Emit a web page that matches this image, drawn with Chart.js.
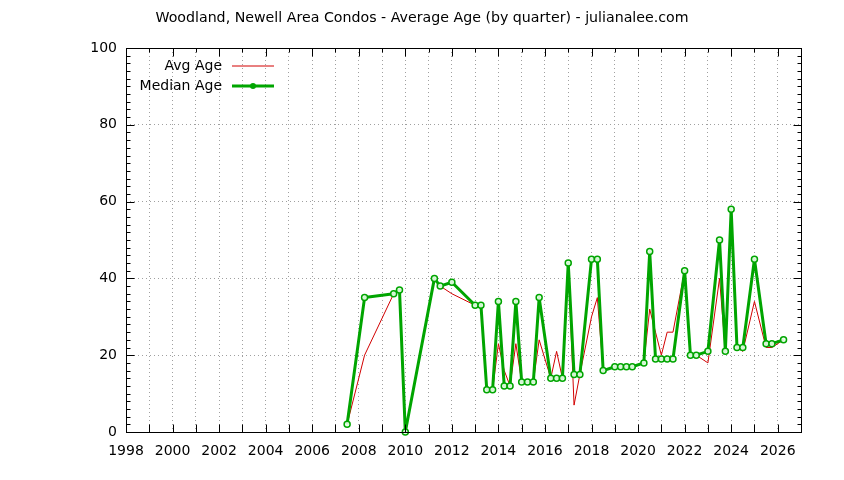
<!DOCTYPE html>
<html>
<head>
<meta charset="utf-8">
<script src="https://cdn.jsdelivr.net/npm/chart.js@4"></script>
<style>
  body { margin: 0; background: #fff; }
  canvas { display: block; }
</style>
</head>
<body>
<canvas id="myChart" width="844" height="480"></canvas>
<script>
// quarter dates as decimal years
const quarters = [
  2007.5, 2008.25, 2009.5, 2009.75, 2010.0, 2011.25, 2011.5, 2012.0,
  2013.0, 2013.25, 2013.5, 2013.75, 2014.0, 2014.25, 2014.5, 2014.75,
  2015.0, 2015.25, 2015.5, 2015.75, 2016.25, 2016.5, 2016.75, 2017.0,
  2017.25, 2017.5, 2018.0, 2018.25, 2018.5, 2019.0, 2019.25, 2019.5,
  2019.75, 2020.25, 2020.5, 2020.75, 2021.0, 2021.25, 2021.5, 2022.0,
  2022.25, 2022.5, 2023.0, 2023.5, 2023.75, 2024.0, 2024.25, 2024.5,
  2025.0, 2025.5, 2025.75, 2026.25
];
const avgAge = [
  2, 20, 36, 37, 0, 40, 38, 36,
  33, 33, 11, 11, 23, 16, 12, 23,
  13, 13, 13, 24, 14, 21, 14, 44,
  7, 15, 30, 35, 16, 17, 17, 17,
  17, 18, 32, 26, 20, 26, 26, 42,
  20, 20, 18, 40, 21, 58, 22, 21,
  34, 22, 22, 24
];
const medianAge = [
  2, 35, 36, 37, 0, 40, 38, 39,
  33, 33, 11, 11, 34, 12, 12, 34,
  13, 13, 13, 35, 14, 14, 14, 44,
  15, 15, 45, 45, 16, 17, 17, 17,
  17, 18, 47, 19, 19, 19, 19, 42,
  20, 20, 21, 50, 21, 58, 22, 22,
  45, 23, 23, 24
];
const yearMin = 1998, yearMax = 2027;
const ageMin = 0, ageMax = 100;
const chartTitle = 'Woodland, Newell Area Condos - Average Age (by quarter) - julianalee.com';

const FONT = 'DejaVu Sans';
const RED = 'rgb(210, 0, 0)';
const GREEN = 'rgb(0, 165, 0)';

// gnuplot style frame: title, box, inward ticks on all four sides, legend top-left
const framePlugin = {
  id: 'frame',
  afterDraw(chart) {
    const { ctx, chartArea: a, scales } = chart;
    const x = scales.x, y = scales.y;
    const L = Math.round(a.left) + 0.5, R = Math.round(a.right) + 0.5;
    const T = Math.round(a.top) + 0.5, B = Math.round(a.bottom) + 0.5;
    ctx.save();

    // title, centred on the whole canvas
    ctx.fillStyle = '#000';
    ctx.font = '14.2px "' + FONT + '"';
    ctx.textAlign = 'center';
    ctx.textBaseline = 'middle';
    ctx.fillText(chartTitle, chart.width / 2, 18);

    ctx.strokeStyle = '#000';
    ctx.lineWidth = 1;
    ctx.beginPath();
    for (let yr = yearMin; yr <= yearMax; yr++) {
      const px = Math.round(x.getPixelForValue(yr)) + 0.5;
      ctx.moveTo(px, B); ctx.lineTo(px, B - 8);
      ctx.moveTo(px, T); ctx.lineTo(px, T + (yr % 2 === 0 ? 8 : 4));
    }
    for (let v = ageMin; v <= ageMax; v += 2) {
      const py = Math.round(y.getPixelForValue(v)) + 0.5;
      const len = v % 20 === 0 ? 8 : 4;
      ctx.moveTo(L, py); ctx.lineTo(L + len, py);
      ctx.moveTo(R, py); ctx.lineTo(R - len, py);
    }
    ctx.stroke();
    ctx.strokeRect(L, T, R - L, B - T);

    // legend
    const ds = chart.data.datasets;
    ctx.font = '14px "' + FONT + '"';
    ctx.textAlign = 'right';
    const textX = a.left + 96, x1 = a.left + 106, x2 = a.left + 148;
    ds.forEach((d, i) => {
      const yy = a.top + 18 + i * 20;
      ctx.fillStyle = '#000';
      ctx.fillText(d.label, textX, yy);
      ctx.strokeStyle = d.borderColor;
      ctx.lineWidth = d.borderWidth;
      ctx.beginPath();
      ctx.moveTo(x1, yy); ctx.lineTo(x2, yy);
      ctx.stroke();
      if (d.pointRadius > 0) {
        ctx.fillStyle = d.borderColor;
        ctx.beginPath();
        ctx.arc((x1 + x2) / 2, yy, 3, 0, Math.PI * 2);
        ctx.fill();
      }
    });
    ctx.restore();
  }
};

const ctx = document.getElementById('myChart').getContext('2d');
const chart = new Chart(ctx, {
  type: 'line',
  data: {
    datasets: [{
      label: 'Avg Age',
      data: quarters.map((q, i) => ({ x: q, y: avgAge[i] })),
      borderColor: RED,
      borderWidth: 1,
      borderJoinStyle: 'round',
      pointRadius: 0,
      tension: 0,
      order: 2,
      clip: false
    }, {
      label: 'Median Age',
      data: quarters.map((q, i) => ({ x: q, y: medianAge[i] })),
      borderColor: GREEN,
      borderWidth: 3,
      borderJoinStyle: 'round',
      pointRadius: 3,
      pointBorderWidth: 1.5,
      pointBackgroundColor: 'rgba(235, 255, 235, 0.9)',
      pointBorderColor: GREEN,
      tension: 0,
      order: 1,
      clip: false
    }]
  },
  options: {
    responsive: false,
    devicePixelRatio: 1,
    animation: false,
    layout: { padding: { left: 0, right: 43, top: 48, bottom: 0 } },
    scales: {
      x: {
        type: 'linear',
        min: yearMin,
        max: yearMax,
        afterFit: s => { s.height = 48; },
        ticks: {
          stepSize: 1,
          autoSkip: false,
          maxRotation: 0,
          padding: 11,
          color: '#000',
          font: { family: FONT, size: 14 },
          callback: v => (v % 2 === 0 ? String(v) : '')
        },
        grid: { color: '#a0a0a0', lineWidth: 1, drawTicks: false },
        border: { display: false, dash: [1, 3] }
      },
      y: {
        min: ageMin,
        max: ageMax,
        afterFit: s => { s.width = 126; },
        ticks: {
          stepSize: 20,
          padding: 9,
          color: '#000',
          font: { family: FONT, size: 14 }
        },
        grid: { color: '#a0a0a0', lineWidth: 1, drawTicks: false },
        border: { display: false, dash: [1, 3] }
      }
    },
    plugins: {
      legend: { display: false },
      tooltip: { enabled: false },
      title: { display: false }
    }
  },
  plugins: [framePlugin]
});
</script>
</body>
</html>
